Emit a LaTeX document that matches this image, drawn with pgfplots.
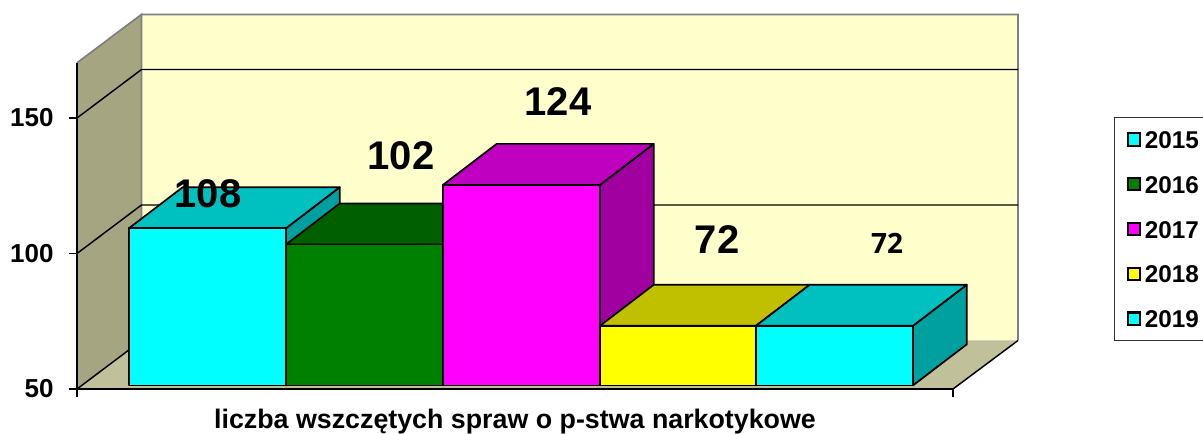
\documentclass[border=0pt]{standalone}
\usepackage{fontspec}
\setmainfont{Liberation Sans}
\newfontfamily\opensans{Open Sans}
\usepackage{pgfplots}
\pgfplotsset{compat=1.18}
\definecolor{wall}{HTML}{FFFFCC}
\definecolor{sidewall}{HTML}{A5A582}
\definecolor{floorc}{HTML}{C0C09A}
\definecolor{cyF}{HTML}{00FFFF}\definecolor{cyT}{HTML}{00C0C0}\definecolor{cyS}{HTML}{00A0A0}
\definecolor{grF}{HTML}{008000}\definecolor{grT}{HTML}{006000}\definecolor{grS}{HTML}{005000}
\definecolor{maF}{HTML}{FF00FF}\definecolor{maT}{HTML}{C000C0}\definecolor{maS}{HTML}{A000A0}
\definecolor{yeF}{HTML}{FFFF00}\definecolor{yeT}{HTML}{C0C000}\definecolor{yeS}{HTML}{A0A000}
\pgfplotsset{
  face/.style={forget plot,draw=black,line width=1.3pt,line join=round,yshift=2.7pt,fill=#1},
  wallf/.style={forget plot,fill=#1,draw=none},
  gridl/.style={forget plot,draw=black,line width=1.1pt},
  swatch/.style={legend image code/.code={\path[draw=none,fill=none] (0pt,-4pt) rectangle (13pt,4pt);\draw[fill=#1,draw=black,line width=1.6pt] (0.6pt,-4.6pt) rectangle (9.8pt,4.6pt);}},
}
\begin{document}
\begin{tikzpicture}
\useasboundingbox (0,0) rectangle (902.25pt,324.75pt);
\begin{axis}[
  at={(57.75pt,33pt)},anchor=south west,
  scale only axis,width=657pt,height=244.5pt,
  xmin=77,xmax=953,ymin=50,ymax=170.3,
  clip=false,axis on top,
  axis x line=bottom,axis y line=left,
  axis line style={-,line width=1.2pt,black},
  tick style={black,line width=0.9pt},
  xtick={77,953},xticklabels={},
  ytick={50,100,150},
  major tick length=6pt,
  tick align=outside,
  /pgf/number format/assume math mode=true,
  yticklabel style={font=\fontsize{19.5}{20}\selectfont\bfseries,xshift=-8pt},
  xlabel={liczba wszczętych spraw o p-stwa narkotykowe},
  xlabel style={at={(axis description cs:0.5,0)},anchor=center,yshift=-24.5pt,font=\fontsize{20.1}{22}\selectfont\bfseries},
  legend cell align=left,
  legend style={at={(axis cs:1114.5,150.1)},anchor=north west,draw=black!80,line width=0.8pt,fill=white,
    inner xsep=9pt,inner ysep=9pt,outer sep=0pt,
    font=\fontsize{18.2}{20}\selectfont\bfseries,
    /tikz/row sep=19pt,
    nodes={inner sep=0.6pt,text height=13.4pt,text depth=0pt}},
]
% walls and floor
\addplot[wallf=wall] coordinates {(141.5,67.9)(141.5,188.2)(1018,188.2)(1018,67.9)} --cycle;
\addplot[forget plot,draw=gray,line width=1.2pt] coordinates {(77,170.3)(141.5,188.2)(1018,188.2)(1018,67.9)};
\addplot[wallf=sidewall] coordinates {(77,50)(141.5,67.9)(141.5,188.2)(77,170.3)} --cycle;
\addplot[forget plot,draw=gray,line width=1.2pt] coordinates {(77,170.3)(141.5,188.2)(141.5,67.9)};
\addplot[wallf=floorc] coordinates {(77,50)(953,50)(1018,67.9)(141.5,67.9)} --cycle;
\addplot[gridl] coordinates {(77,50)(141.5,67.9)};
\addplot[gridl] coordinates {(953,50)(1018,67.9)};
\addplot[gridl] coordinates {(77,100)(141.5,117.9)(1018,117.9)};
\addplot[gridl] coordinates {(77,150)(141.5,167.9)(1018,167.9)};
% 2015
\addplot[face=cyS] coordinates {(286,50)(339.7,65.13)(339.7,123.13)(286,108)} --cycle;
\addplot[face=cyT] coordinates {(129,108)(182.7,123.13)(339.7,123.13)(286,108)} --cycle;
\addplot[face=cyF] coordinates {(129,50)(129,108)(286,108)(286,50)} --cycle;
% 2016
\addplot[face=grS] coordinates {(443,50)(496.7,65.13)(496.7,117.13)(443,102)} --cycle;
\addplot[face=grT] coordinates {(286,102)(339.7,117.13)(496.7,117.13)(443,102)} --cycle;
\addplot[face=grF] coordinates {(286,50)(286,102)(443,102)(443,50)} --cycle;
% 2017
\addplot[face=maS] coordinates {(600,50)(653.7,65.13)(653.7,139.13)(600,124)} --cycle;
\addplot[face=maT] coordinates {(443,124)(496.7,139.13)(653.7,139.13)(600,124)} --cycle;
\addplot[face=maF] coordinates {(443,50)(443,124)(600,124)(600,50)} --cycle;
% 2018
\addplot[face=yeS] coordinates {(756,50)(809.7,65.13)(809.7,87.13)(756,72)} --cycle;
\addplot[face=yeT] coordinates {(600,72)(653.7,87.13)(809.7,87.13)(756,72)} --cycle;
\addplot[face=yeF] coordinates {(600,50)(600,72)(756,72)(756,50)} --cycle;
% 2019
\addplot[face=cyS] coordinates {(913,50)(966.7,65.13)(966.7,87.13)(913,72)} --cycle;
\addplot[face=cyT] coordinates {(756,72)(809.7,87.13)(966.7,87.13)(913,72)} --cycle;
\addplot[face=cyF] coordinates {(756,50)(756,72)(913,72)(913,50)} --cycle;
% legend
\addlegendimage{swatch=cyF}\addlegendentry{2015}
\addlegendimage{swatch=grF}\addlegendentry{2016}
\addlegendimage{swatch=maF}\addlegendentry{2017}
\addlegendimage{swatch=yeF}\addlegendentry{2018}
\addlegendimage{swatch=cyF}\addlegendentry{2019}
% value labels
\tikzset{vl/.style={font=\fontsize{30}{32}\selectfont\bfseries,inner sep=0pt}}
\node[vl] at (axis cs:208,121.9) {108};
\node[vl] at (axis cs:401,135.9) {102};
\node[vl] at (axis cs:558,155.9) {124};
\node[vl] at (axis cs:717,105) {72};
\node[font=\fontsize{21}{22}\selectfont\opensans\bfseries,inner sep=0pt] at (axis cs:887,103.6) {72};
\end{axis}
\end{tikzpicture}
\end{document}
